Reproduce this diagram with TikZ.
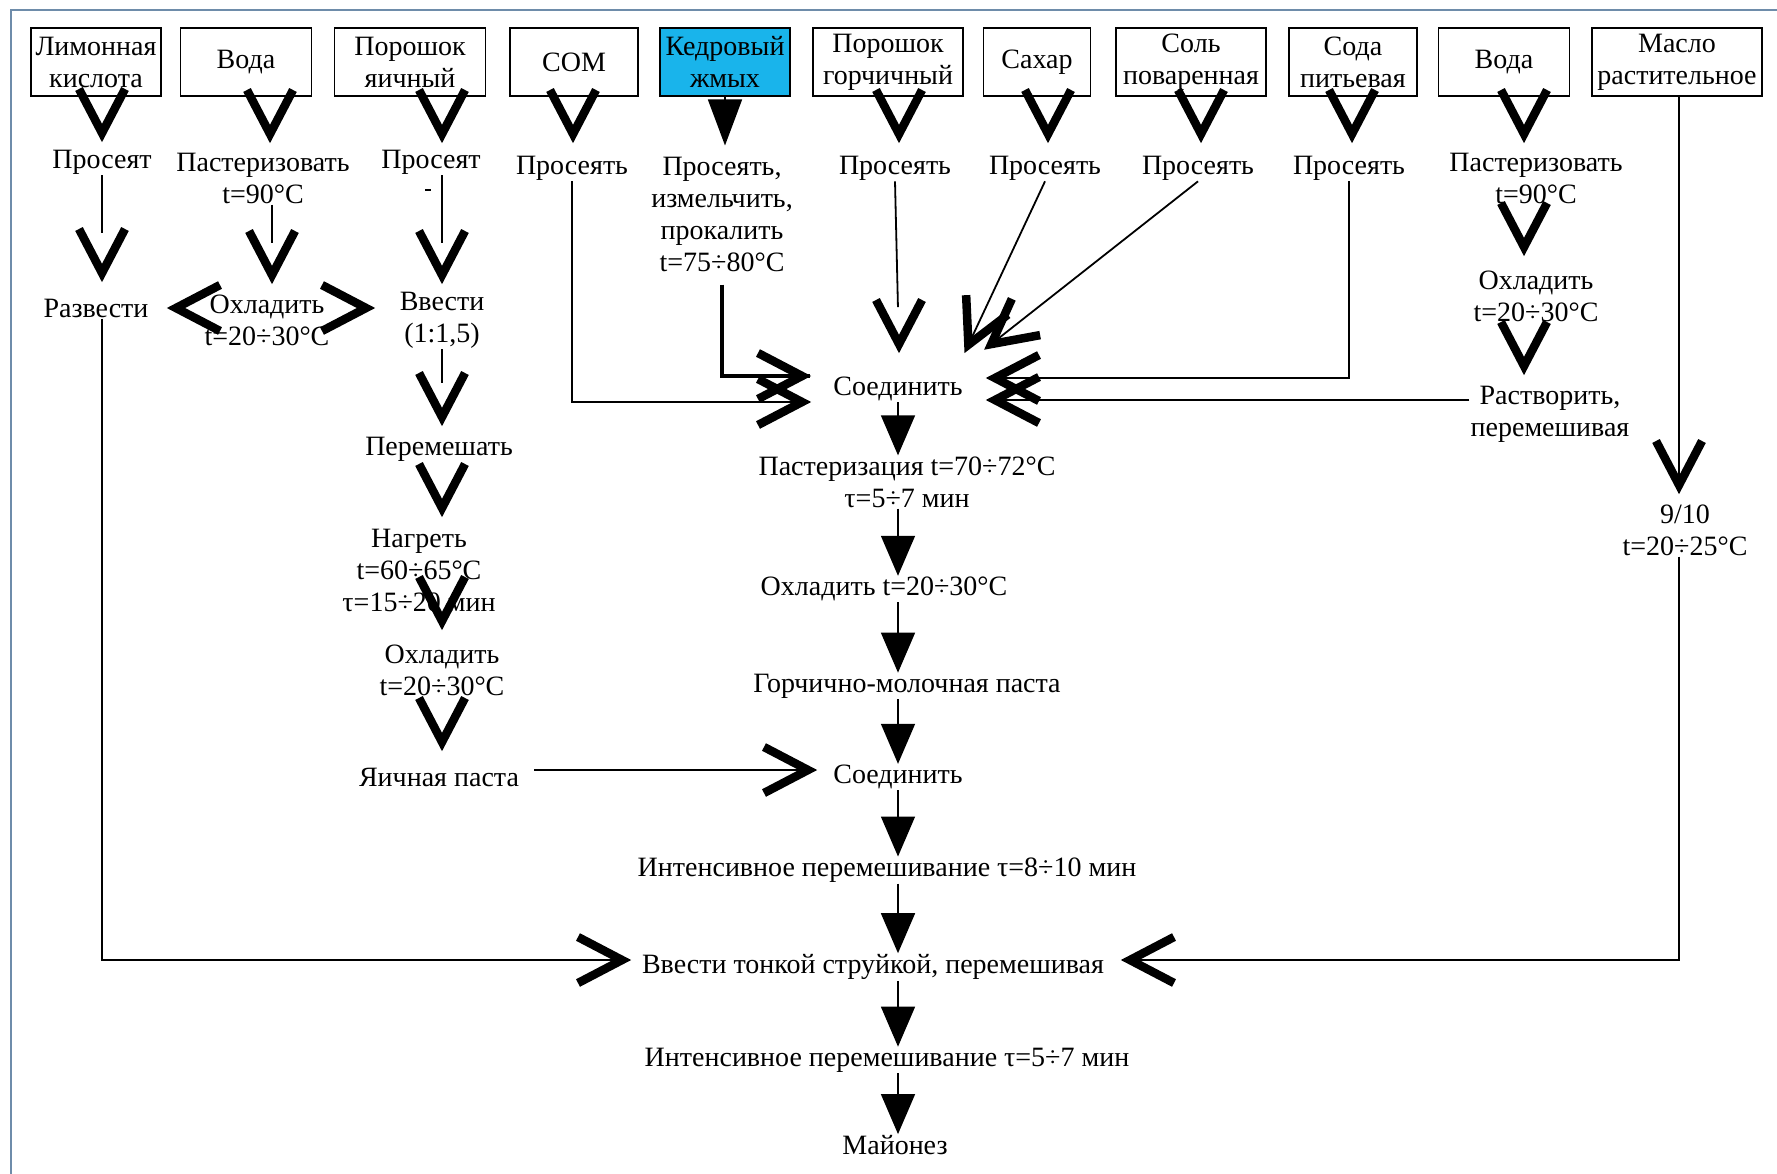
\documentclass[tikz,border=0pt]{standalone}
\usepackage{fontspec}
\setmainfont{Liberation Serif}
\usetikzlibrary{arrows.meta,calc}
\definecolor{kedr}{RGB}{25,180,235}
\definecolor{frm}{RGB}{110,140,170}
\newcommand\txt{\fontsize{28}{32}\selectfont}
\newcommand\chev[2]{\draw[chevst,shift={($(#1)+(#2+180:8)$)},rotate=-#2] (-44,-23) -- (0,0) -- (-44,23);}
\tikzset{
 ibox/.style={draw, line width=1.6pt, minimum width=#1, minimum height=68pt, inner sep=0pt, align=center, font=\txt},
 lbl/.style={inner sep=1pt, align=center, font=\txt},
 ln/.style={line width=1.8pt},
 thk/.style={line width=4.5pt},
 chevst/.style={line width=8.5pt, line join=miter},
 tri/.style={line width=1.5pt, -{Triangle[length=40pt,width=34pt]}},
}
\begin{document}
\begin{tikzpicture}[x=1pt,y=-1pt]
\useasboundingbox (0,0) rectangle (1777,1173);
\fill[white] (0,0) rectangle (1777,1173);
\draw[frm, line width=2pt] (11,1180) -- (11,10) -- (1785,10);

% boxes
\node[ibox=130pt] (b1) at (96,62) {Лимонная\\кислота};
\node[ibox=131pt] (b2) at (246,62) {Вода};
\node[ibox=151pt] (b3) at (410,62) {Порошок\\яичный};
\node[ibox=128pt] (b4) at (574,62) {СОМ};
\node[ibox=130pt, fill=kedr] (b5) at (725,62) {Кедровый\\жмых};
\node[ibox=150pt] (b6) at (888,62) {Порошок\\горчичный};
\node[ibox=107pt] (b7) at (1037,62) {Сахар};
\node[ibox=150pt] (b8) at (1191,62) {Соль\\поваренная};
\node[ibox=128pt] (b9) at (1353,62) {Сода\\питьевая};
\node[ibox=131pt] (b10) at (1504,62) {Вода};
\node[ibox=170pt] (b11) at (1677,62) {Масло\\растительное};

% first row texts
\node[lbl] (p1) at (102,162) {Просеят};
\node[lbl] (p2) at (263,178) {Пастеризовать\\t=90°C};
\node[lbl] (p3) at (431,162) {Просеят};
\node[lbl] (p4) at (572,168) {Просеять};
\node[lbl] (p5) at (722,214) {Просеять,\\измельчить,\\прокалить\\t=75÷80°C};
\node[lbl] (p6) at (895,168) {Просеять};
\node[lbl] (p7) at (1045,168) {Просеять};
\node[lbl] (p8) at (1198,168) {Просеять};
\node[lbl] (p9) at (1349,168) {Просеять};
\node[lbl] (p10) at (1536,178) {Пастеризовать\\t=90°C};

% left part
\node[lbl] (r1) at (96,308) {Развести};
\node[lbl] (r2) at (267,320) {Охладить\\t=20÷30°C};
\node[lbl] (r3) at (442,320) {Ввести\\(1:1,5)};
\node[lbl] (e1) at (439,449) {Перемешать};
\node[lbl] (e2) at (419,570) {Нагреть\\t=60÷65°C\\τ=15÷20 мин};
\node[lbl] (e3) at (442,670) {Охладить\\t=20÷30°C};
\node[lbl] (e4) at (439,777) {Яичная паста};

% right part
\node[lbl] (w1) at (1536,296) {Охладить\\t=20÷30°C};
\node[lbl] (w2) at (1550,414) {Растворить,\\перемешивая};
\node[lbl] (m1) at (1685,530) {9/10\\t=20÷25°C};

% center column
\node[lbl] (c1) at (898,389) {Соединить};
\node[lbl] (c2) at (907,482) {Пастеризация t=70÷72°C\\τ=5÷7 мин};
\node[lbl] (c3) at (884,589) {Охладить t=20÷30°C};
\node[lbl] (c4) at (907,686) {Горчично-молочная паста};
\node[lbl] (c5) at (898,777) {Соединить};
\node[lbl] (c6) at (887,870) {Интенсивное перемешивание τ=8÷10 мин};
\node[lbl] (c7) at (873,967) {Ввести тонкой струйкой, перемешивая};
\node[lbl] (c8) at (887,1060) {Интенсивное перемешивание τ=5÷7 мин};
\node[lbl] (c9) at (895,1145) {Майонез};

% arrow tip coordinates
\coordinate (v1a) at (102,141);
\coordinate (v1b) at (102,281);
\coordinate (tL) at (630,960);
\coordinate (v2a) at (270,142);
\coordinate (v2b) at (272,283);
\coordinate (tr2l) at (168,308);
\coordinate (tr2r) at (374,308);
\coordinate (v3a) at (442,142);
\coordinate (v3b) at (442,283);
\coordinate (v3c) at (442,425);
\coordinate (v3d) at (442,516);
\coordinate (v3e) at (442,629);
\coordinate (v3f) at (442,750);
\coordinate (tY) at (816,770);
\coordinate (v4a) at (573,142);
\coordinate (t4) at (810,402);
\coordinate (t5) at (810,376);
\coordinate (v6a) at (899,142);
\coordinate (v6b) at (899,352);
\coordinate (v7a) at (1048,142);
\coordinate (t7) at (965,352);
\coordinate (v8a) at (1201,142);
\coordinate (t8) at (985,349);
\coordinate (v9a) at (1352,142);
\coordinate (t9) at (987,378);
\coordinate (v10a) at (1524,142);
\coordinate (v10b) at (1524,255);
\coordinate (v10c) at (1524,374);
\coordinate (t10) at (987,400);
\coordinate (v11) at (1679,493);
\coordinate (tR) at (1122,960);
\coordinate (cx) at (898,0);

% column 1
\chev{v1a}{90}
\draw[ln,shorten >=48pt] (p1.south) -- (v1b);
\chev{v1b}{90}
\draw[ln] (r1.south -| v1b) |- (tL);
\chev{tL}{0}
% column 2
\chev{v2a}{90}
\draw[ln,shorten >=40pt] (p2.south -| v2b) -- (v2b);
\chev{v2b}{90}
\chev{tr2l}{180}
\chev{tr2r}{0}
% column 3
\chev{v3a}{90}
\draw[line width=1.5pt] (425,190) -- (431,190);
\draw[ln,shorten >=40pt] (p3.south -| v3b) -- (v3b);
\chev{v3b}{90}
\draw[ln,shorten >=42pt] (r3.south -| v3c) -- (v3c);
\chev{v3c}{90}
\chev{v3d}{90}
\chev{v3e}{90}
\chev{v3f}{90}
\draw[ln,shorten <=14pt] (e4.east |- tY) -- (tY);
\chev{tY}{0}
% COM
\chev{v4a}{90}
\draw[ln] (p4.south) |- (t4);
\chev{t4}{0}
% kedr
\draw[line width=1.5pt, -{Triangle[length=46pt,width=34pt]}, shorten >=10pt] (b5.south) -- (b5.south |- p5.north);
\draw[thk,shorten <=12pt] (p5.south) |- (t5);
\chev{t5}{0}
% gorch
\chev{v6a}{90}
\draw[ln,shorten >=45pt] (p6.south) -- (v6b);
\chev{v6b}{90}
% sahar
\chev{v7a}{90}
\draw[ln,shorten >=14pt] (p7.south) -- (t7);
\chev{t7}{115}
% sol
\chev{v8a}{90}
\draw[ln,shorten >=14pt] (p8.south) -- (t8);
\chev{t8}{142}
% soda
\chev{v9a}{90}
\draw[ln] (p9.south) |- (t9);
\chev{t9}{180}
% voda 2
\chev{v10a}{90}
\chev{v10b}{90}
\chev{v10c}{90}
\draw[ln] (w2.west |- t10) -- (t10);
\chev{t10}{180}
% maslo
\draw[ln] (b11.south -| v11) -- (v11);
\chev{v11}{90}
\draw[ln] (m1.south -| v11) |- (tR);
\chev{tR}{180}
% center
\foreach \a/\b in {c1/c2,c2/c3,c3/c4,c4/c5,c5/c6,c6/c7,c7/c8,c8/c9}
  \draw[tri] (\a.south -| cx) -- (\b.north -| cx);
\end{tikzpicture}
\end{document}
